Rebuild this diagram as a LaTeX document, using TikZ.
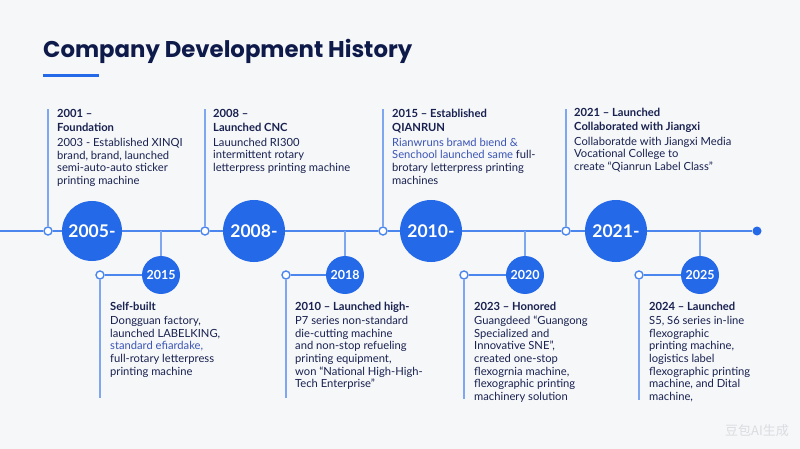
\documentclass[tikz,border=0pt]{standalone}
\usepackage{fontspec}
\setmainfont{Lato}
\newfontfamily\titlefont{Poppins}
\newfontfamily\cjkfont{Noto Sans CJK SC}
\definecolor{bg}{HTML}{F6F7F9}
\definecolor{navy}{HTML}{18214F}
\definecolor{titlec}{HTML}{0E1A4A}
\definecolor{accent}{HTML}{2469E8}
\definecolor{linec}{HTML}{4A86EE}
\definecolor{vlinec}{HTML}{7FA6F0}
\definecolor{garb}{HTML}{3A55B5}
\definecolor{wmc}{HTML}{DADCE0}
\begin{document}
\begin{tikzpicture}[x=1pt,y=-1pt,
  mainline/.style={draw=linec, line width=1.4pt},
  vline/.style={draw=vlinec, line width=1.2pt},
  opendot/.style={circle, draw=linec, fill=white, line width=1.4pt, minimum size=8pt, inner sep=0pt},
  enddot/.style={circle, fill=accent, minimum size=9pt, inner sep=0pt},
  bigc/.style={circle, fill=accent, minimum size=62pt, inner sep=0pt, text=white, font=\fontsize{17.5}{19}\selectfont\bfseries},
  smallc/.style={circle, fill=accent, minimum size=38pt, inner sep=0pt, text=white, font=\fontsize{12.5}{14}\selectfont\bfseries},
  blk/.style={anchor=north west, align=left, inner sep=0pt, text=navy, font=\fontsize{11.2}{12.6}\selectfont},
]
\useasboundingbox (0,0) rectangle (800,449);
\fill[bg] (0,0) rectangle (800,449);

% title
\node[anchor=base west, inner sep=0pt, text=titlec, font=\titlefont\fontsize{22.8}{26}\selectfont\bfseries] (title) at (43,58) {Company Development History};
\fill[accent] (43,74.5) rectangle (99,77.5);

% main timeline nodes
\coordinate (start) at (0,231);
\node[opendot] (t1) at (48,231) {};
\node[opendot] (t2) at (205,231) {};
\node[opendot] (t3) at (383,231) {};
\node[opendot] (t4) at (566,231) {};
\node[enddot] (end) at (757,231) {};
\node[bigc, minimum size=60pt] (c1) at (92,231) {2005-};
\node[bigc] (c2) at (254,231) {2008-};
\node[bigc] (c3) at (431,231) {2010-};
\node[bigc] (c4) at (616,231) {2021-};

\draw[mainline] (start) -- (t1);
\draw[mainline] (t1) -- (c1);
\draw[mainline] (c1) -- (t2);
\draw[mainline] (t2) -- (c2);
\draw[mainline] (c2) -- (t3);
\draw[mainline] (t3) -- (c3);
\draw[mainline] (c3) -- (t4);
\draw[mainline] (t4) -- (c4);
\draw[mainline] (c4) -- (end);

% top vertical lines
\coordinate (t1top) at (48,109);
\coordinate (t2top) at (205,109);
\coordinate (t3top) at (383,109);
\coordinate (t4top) at (566,109);
\draw[vline] (t1) -- (t1top);
\draw[vline] (t2) -- (t2top);
\draw[vline] (t3) -- (t3top);
\draw[vline] (t4) -- (t4top);

% lower branches
\coordinate (b1) at (161,231);
\coordinate (b2) at (345,231);
\coordinate (b3) at (525,231);
\coordinate (b4) at (700,231);
\node[smallc] (s1) at (161,275) {2015};
\node[smallc] (s2) at (345,275) {2018};
\node[smallc] (s3) at (525,275) {2020};
\node[smallc] (s4) at (700,275) {2025};
\node[opendot] (l1) at (100,275) {};
\node[opendot] (l2) at (286,275) {};
\node[opendot] (l3) at (464,275) {};
\node[opendot] (l4) at (639,275) {};
\coordinate (l1end) at (100,398);
\coordinate (l2end) at (286,398);
\coordinate (l3end) at (464,399);
\coordinate (l4end) at (639,400);
\foreach \i in {1,2,3,4}{
  \draw[vline] (b\i) -- (s\i);
  \draw[mainline] (s\i) -- (l\i);
  \draw[vline] (l\i) -- (l\i end);
}

% top text blocks
\node[blk] (tx1) at (57,109.5) {\textbf{2001 –}\\[1.5pt]\textbf{Foundation}\\[2pt]2003 - Established XINQI\\brand, brand, launched\\semi-auto-auto sticker\\printing machine};
\node[blk] (tx2) at (213,109) {\textbf{2008 –}\\[1.5pt]\textbf{Launched CNC}\\[2pt]Lauunched RI300\\intermittent rotary\\letterpress printing machine};
\node[blk] (tx3) at (392,109) {\textbf{2015 – Established}\\[1.5pt]\textbf{QIANRUN}\\[2pt]{\color{garb}\scshape Rianwruns braᴍd bɪend \&}\\{\color{garb}Senchool launched same} full-\\brotary letterpress printing\\machines};
\node[blk] (tx4) at (574,108) {\textbf{2021 – Launched}\\[1.5pt]\textbf{Collaborated with Jiangxi}\\[2pt]Collaboratde with Jiangxi Media\\Vocational College to\\create “Qianrun Label Class”};

% bottom text blocks
\node[blk] (bx1) at (110,301.5) {\textbf{Self-built}\\[2pt]Dongguan factory,\\launched LABELKING,\\{\color{garb}standard efiardake,}\\full-rotary letterpress\\printing machine};
\node[blk] (bx2) at (295,301.5) {\textbf{2010 – Launched high-}\\[2pt]P7 series non-standard\\die-cutting machine\\and non-stop refueling\\printing equipment,\\won “National High-High-\\Tech Enterprise”};
\node[blk] (bx3) at (474,301.5) {\textbf{2023 – Honored}\\[2pt]Guangdeed “Guangong\\Specialized and\\Innovative SNE”,\\created one-stop\\flexogrnia machine,\\flexographic printing\\machinery solution};
\node[blk] (bx4) at (649,301.5) {\textbf{2024 – Launched}\\[2pt]S5, S6 series in-line\\flexographic\\printing machine,\\logistics label\\flexographic printing\\machine, and Dital\\machine,};

% watermark
\node[inner sep=0pt, text=wmc, font=\cjkfont\fontsize{13}{13}\selectfont] (wm) at (757,431) {豆包AI生成};
\end{tikzpicture}
\end{document}
